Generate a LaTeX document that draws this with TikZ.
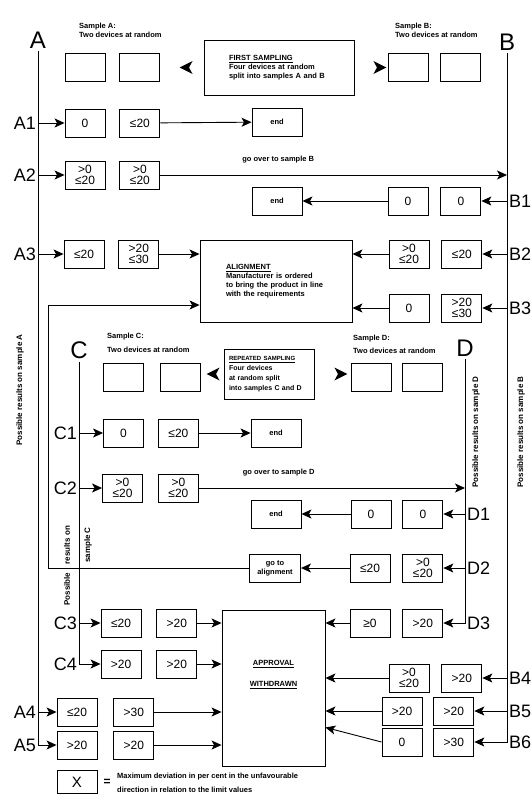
\documentclass[tikz,border=0pt]{standalone}
\usepackage{fontspec}
\setmainfont{Liberation Sans}
\usetikzlibrary{arrows.meta,positioning,calc}
\tikzset{
  >={Stealth[length=10pt,width=9pt,inset=2.5pt]},
  dev/.style={draw,line width=0.9pt,minimum width=40pt,minimum height=28pt,
              inner sep=1pt,align=center,font=\fontsize{12}{11}\selectfont},
  endbox/.style={draw,line width=0.9pt,minimum width=50pt,minimum height=28pt,
              inner sep=1pt,align=center,font=\bfseries\fontsize{7.5}{9}\selectfont},
  panel/.style={draw,line width=0.9pt,align=left,inner sep=0pt,
              font=\bfseries\fontsize{7.5}{9}\selectfont},
  flow/.style={->,line width=0.9pt},
  letter/.style={font=\fontsize{24}{24}\selectfont,inner sep=0pt},
  rowlbl/.style={font=\fontsize{18}{18}\selectfont,inner sep=0pt},
  note/.style={font=\bfseries\fontsize{7.5}{9}\selectfont,align=left,inner sep=0pt},
  lbl/.style={font=\bfseries\fontsize{7.5}{9}\selectfont,inner sep=0pt},
  side/.style={font=\bfseries\fontsize{8}{9}\selectfont,rotate=90,inner sep=0pt},
  pointer/.style={fill=black},
}
\begin{document}
\begin{tikzpicture}[x=1pt,y=-1pt]
  \useasboundingbox (0,0) rectangle (531,801);

  \node[letter] (A) at (38,40) {A};
  \node[letter] (B) at (507,42) {B};
  \node[note,anchor=south west] (labA) at (79,38) {Sample A:\\Two devices at random};
  \node[note,anchor=south west] (labB) at (395,38) {Sample B:\\Two devices at random};
  \node[dev] (sa1) at (85,67.5) {};
  \node[dev,right=14pt of sa1] (sa2) {};
  \node[dev] (sb1) at (408,67.5) {};
  \node[dev,right=12pt of sb1] (sb2) {};
  \node[panel,minimum width=150pt,minimum height=55pt,text width=100pt] (first) at (279,67.5)
    {\underline{FIRST SAMPLING}\\Four devices at random\\split into samples A and B};
  \fill[pointer] ([xshift=-24pt]first.west) -- ++(13,-6.5) -- ++(-3.5,6.5) -- ++(3.5,6.5) -- cycle;
  \fill[pointer] ([xshift=32pt]first.east) -- ++(-13,-6.5) -- ++(3.5,6.5) -- ++(-3.5,6.5) -- cycle;

  \node[rowlbl,anchor=east] (tA1) at (36,123) {A1};
  \node[dev] (a1l) at (85,123) {0};
  \node[dev,right=14pt of a1l] (a1r) {≤20};
  \node[endbox] (end1) at (277,122) {end};
  \draw[flow] (A.south |- a1l.west) -- (a1l.west);
  \draw[flow] (a1r) -- (end1);

  \node[rowlbl,anchor=east] (tA2) at (36,175) {A2};
  \node[dev] (a2l) at (85,175) {>0\\≤20};
  \node[dev,right=14pt of a2l] (a2r) {>0\\≤20};
  \draw[flow] (A.south |- a2l.west) -- (a2l.west);
  \draw[flow] (a2r.east) -- node[lbl,pos=0.34,above=11pt] {go over to sample B} (a2r.east -| B.south);

  \node[rowlbl,anchor=west] (tB1) at (509,201) {B1};
  \node[dev] (b1l) at (408,201) {0};
  \node[dev,right=12pt of b1l] (b1r) {0};
  \node[endbox] (end2) at (277,201) {end};
  \draw[flow] (B.south |- b1r.east) -- (b1r.east);
  \draw[flow] (b1l) -- (end2);

  \node[panel,minimum width=152pt,minimum height=82pt,text width=100pt] (align) at (276,281)
    {\underline{ALIGNMENT}\\Manufacturer is ordered\\to bring the product in line\\with the requirements};

  \node[rowlbl,anchor=east] (tA3) at (36,254) {A3};
  \node[dev] (a3l) at (84,254) {≤20};
  \node[dev,right=14pt of a3l] (a3r) {>20\\≤30};
  \draw[flow] (A.south |- a3l.west) -- (a3l.west);
  \draw[flow] (a3r.east) -- (a3r.east -| align.west);

  \node[rowlbl,anchor=west] (tB2) at (509,254) {B2};
  \node[dev] (b2l) at (409,254) {>0\\≤20};
  \node[dev,right=12pt of b2l] (b2r) {≤20};
  \draw[flow] (B.south |- b2r.east) -- (b2r.east);
  \draw[flow] (b2l.west) -- (b2l.west -| align.east);

  \node[rowlbl,anchor=west] (tB3) at (509,308) {B3};
  \node[dev] (b3l) at (409,308) {0};
  \node[dev,right=12pt of b3l] (b3r) {>20\\≤30};
  \draw[flow] (B.south |- b3r.east) -- (b3r.east);
  \draw[flow] (b3l.west) -- (b3l.west -| align.east);

  \node[side] (sideA) at (20,390) {Possible results on sample A};
  \node[side] (sideD) at (476,432) {Possible results on sample D};
  \node[side] (sideB) at (521,432) {Possible results on sample B};

  \node[letter] (C) at (79,350) {C};
  \node[letter] (D) at (465,348) {D};
  \node[note,anchor=south west] (labC) at (107,353) {Sample C:\\[5pt]Two devices at random};
  \node[note,anchor=south west] (labD) at (353,354) {Sample D:\\[4pt]Two devices at random};
  \node[dev] (sc1) at (123.5,377) {};
  \node[dev,right=16pt of sc1] (sc2) {};
  \node[dev] (sd1) at (371,377) {};
  \node[dev,right=11pt of sd1] (sd2) {};
  \node[panel,minimum width=90pt,minimum height=50pt,text width=80pt,
        font=\bfseries\fontsize{7}{10}\selectfont] (rep) at (269,374)
    {{\fontsize{6}{10}\selectfont\underline{REPEATED SAMPLING}}\\Four devices\\at random split\\into samples C and D};
  \fill[pointer] ([xshift=-17pt]rep.west) -- ++(13,-6.5) -- ++(-3.5,6.5) -- ++(3.5,6.5) -- cycle;
  \fill[pointer] ([xshift=33pt]rep.east) -- ++(-13,-6.5) -- ++(3.5,6.5) -- ++(-3.5,6.5) -- cycle;

  \node[rowlbl,anchor=east] (tC1) at (77,433) {C1};
  \node[dev] (c1l) at (123.5,433) {0};
  \node[dev,right=14pt of c1l] (c1r) {≤20};
  \node[endbox] (end3) at (276,433) {end};
  \draw[flow] (C.south |- c1l.west) -- (c1l.west);
  \draw[flow] (c1r) -- (end3);

  \node[rowlbl,anchor=east] (tC2) at (77,488) {C2};
  \node[dev] (c2l) at (122.5,488) {>0\\≤20};
  \node[dev,right=15pt of c2l] (c2r) {>0\\≤20};
  \draw[flow] (C.south |- c2l.west) -- (c2l.west);
  \draw[flow] (c2r.east) -- node[lbl,pos=0.30,above=11pt] {go over to sample D} (c2r.east -| D.south);

  \node[rowlbl,anchor=west] (tD1) at (467,514) {D1};
  \node[dev] (d1l) at (371,514) {0};
  \node[dev,right=11pt of d1l] (d1r) {0};
  \node[endbox] (end4) at (276,514) {end};
  \draw[flow] (D.south |- d1r.east) -- (d1r.east);
  \draw[flow] (d1l) -- (end4);

  \node[rowlbl,anchor=west] (tD2) at (467,568) {D2};
  \node[dev] (d2l) at (370,568) {≤20};
  \node[dev,right=12pt of d2l] (d2r) {>0\\≤20};
  \node[endbox,minimum width=51pt] (goal) at (275,568) {go to\\alignment};
  \draw[flow] (D.south |- d2r.east) -- (d2r.east);
  \draw[flow] (d2l) -- (goal);
  \coordinate (ret) at (48,305);
  \draw[flow] (goal.west) -| (ret) -- (ret -| align.west);

  \node[side] (sideC1) at (67,589) {Possible};
  \node[side] (sideC2) at (67,545) {results on};
  \node[side] (sideC3) at (88,545) {sample C};

  \node[draw,line width=0.9pt,minimum width=103pt,minimum height=156pt] (appr) at (273.5,688) {};
  \node[lbl,align=center] (apprtxt) at ($(appr.north)+(0,65)$)
    {\underline{APPROVAL}\\[12pt]\underline{WITHDRAWN}};

  \node[rowlbl,anchor=west] (tD3) at (467,623) {D3};
  \node[dev] (d3l) at (370,623) {≥0};
  \node[dev,right=12pt of d3l] (d3r) {>20};
  \draw[flow] (d3l.west) -- (d3l.west -| appr.east);

  \node[rowlbl,anchor=east] (tC3) at (77,623) {C3};
  \node[dev] (c3l) at (121,623) {≤20};
  \node[dev,right=15pt of c3l] (c3r) {>20};
  \draw[flow] (C.south |- c3l.west) -- (c3l.west);
  \draw[flow] (c3r.east) -- (c3r.east -| appr.west);

  \node[rowlbl,anchor=east] (tC4) at (77,664) {C4};
  \node[dev] (c4l) at (121,664) {>20};
  \node[dev,right=15pt of c4l] (c4r) {>20};
  \draw[flow] (c4r.east) -- (c4r.east -| appr.west);

  \node[rowlbl,anchor=west] (tB4) at (509,678) {B4};
  \node[dev] (b4l) at (409,678) {>0\\≤20};
  \node[dev,right=12pt of b4l] (b4r) {>20};
  \draw[flow] (B.south |- b4r.east) -- (b4r.east);
  \draw[flow] (b4l.west) -- (b4l.west -| appr.east);

  \node[rowlbl,anchor=east] (tA4) at (36,712) {A4};
  \node[dev] (a4l) at (77,712) {≤20};
  \node[dev,right=16pt of a4l] (a4r) {>30};
  \draw[flow] (A.south |- a4l.west) -- (a4l.west);
  \draw[flow] (a4r.east) -- (a4r.east -| appr.west);

  \node[rowlbl,anchor=west] (tB5) at (509,711) {B5};
  \node[dev] (b5l) at (402,711) {>20};
  \node[dev,right=11pt of b5l] (b5r) {>20};
  \draw[flow] (B.south |- b5r.east) -- (b5r.east);
  \draw[flow] (b5l.west) -- (b5l.west -| appr.east);

  \node[rowlbl,anchor=east] (tA5) at (36,745) {A5};
  \node[dev] (a5l) at (77,745) {>20};
  \node[dev,right=16pt of a5l] (a5r) {>20};
  \draw[flow] (a5r.east) -- (a5r.east -| appr.west);

  \node[rowlbl,anchor=west] (tB6) at (509,742) {B6};
  \node[dev] (b6l) at (402,742) {0};
  \node[dev,right=11pt of b6l] (b6r) {>30};
  \draw[flow] (b6l.west) -- ($(appr.south east)+(0,-39)$);

  \draw[flow,shorten <=3pt] (A.south) |- (a5l.west);
  \draw[flow,shorten <=3pt] (B.south) |- (b6r.east);
  \draw[flow,shorten <=3pt] (C.south) |- (c4l.west);
  \draw[flow,shorten <=3pt] (D.south) |- (d3r.east);

  \node[dev,minimum height=23pt,font=\fontsize{15}{15}\selectfont] (key) at (77,782) {X};
  \node[font=\bfseries\fontsize{12}{12}\selectfont,inner sep=0pt,right=6pt of key] (eq) {=};
  \node[note,anchor=west,font=\bfseries\fontsize{7.5}{14}\selectfont] (keytxt) at (117,783)
    {Maximum deviation in per cent in the unfavourable\\direction in relation to the limit values};
\end{tikzpicture}
\end{document}
